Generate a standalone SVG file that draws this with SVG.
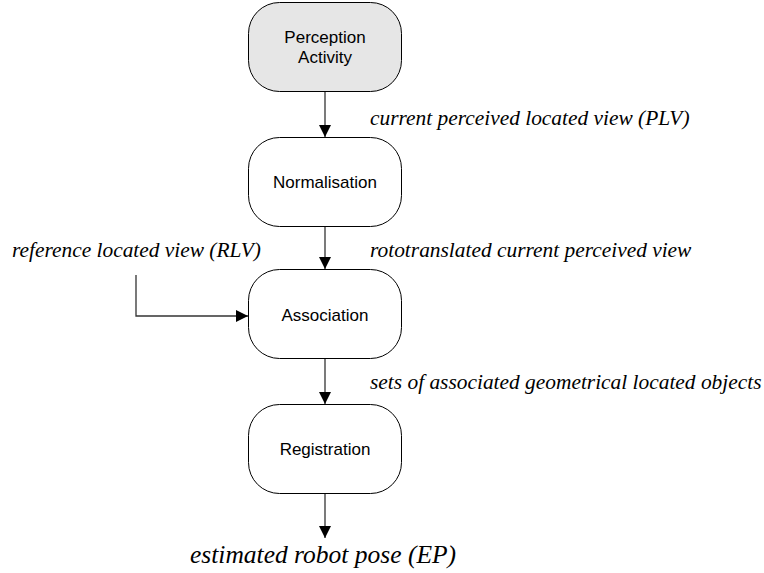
<svg xmlns="http://www.w3.org/2000/svg" width="764" height="573" viewBox="0 0 764 573">
  <style>
    .box { fill: #ffffff; stroke: #000000; stroke-width: 1; }
    .start { fill: #e6e6e6; }
    .name { font-family: "Liberation Sans", Arial, sans-serif; font-size: 17px; fill: #000000; text-anchor: middle; }
    .flow { font-family: "Liberation Serif", "Times New Roman", serif; font-style: italic; font-size: 21.4px; fill: #000000; }
    .out { font-size: 25.5px; }
    .wire { fill: none; stroke: #333333; stroke-width: 1.3; }
  </style>
  <defs>
    <marker id="head" markerWidth="12" markerHeight="12" refX="12" refY="6" orient="auto" markerUnits="userSpaceOnUse">
      <path d="M0,0 L12,6 L0,12 Z" fill="#000000"/>
    </marker>
  </defs>

  <rect width="764" height="573" fill="#ffffff"/>

  <!-- process steps -->
  <g id="perception">
    <rect class="box start" x="248.5" y="2.5" width="153" height="89" rx="31" ry="31"/>
    <text class="name" x="325" y="43">Perception</text>
    <text class="name" x="325" y="63">Activity</text>
  </g>
  <g id="normalisation">
    <rect class="box" x="248.5" y="137.5" width="153" height="89" rx="31" ry="31"/>
    <text class="name" x="325" y="188">Normalisation</text>
  </g>
  <g id="association">
    <rect class="box" x="248.5" y="269.5" width="153" height="89" rx="31" ry="31"/>
    <text class="name" x="325" y="321">Association</text>
  </g>
  <g id="registration">
    <rect class="box" x="248.5" y="404.5" width="153" height="89" rx="31" ry="31"/>
    <text class="name" x="325" y="455">Registration</text>
  </g>

  <!-- data flows between steps -->
  <g id="connectors">
    <line class="wire" x1="325" y1="92" x2="325" y2="137" marker-end="url(#head)"/>
    <line class="wire" x1="325" y1="227" x2="325" y2="269" marker-end="url(#head)"/>
    <line class="wire" x1="325" y1="359" x2="325" y2="404" marker-end="url(#head)"/>
    <line class="wire" x1="325" y1="494" x2="325" y2="538" marker-end="url(#head)"/>
    <polyline class="wire" points="136,275 136,316 248,316" marker-end="url(#head)"/>
  </g>

  <!-- flow labels -->
  <g id="labels">
    <text class="flow" x="370" y="125">current perceived located view (PLV)</text>
    <text class="flow" x="12" y="257">reference located view (RLV)</text>
    <text class="flow" x="370" y="257">rototranslated current perceived view</text>
    <text class="flow" x="370" y="389">sets of associated geometrical located objects</text>
    <text class="flow out" x="190" y="563">estimated robot pose (EP)</text>
  </g>
</svg>
